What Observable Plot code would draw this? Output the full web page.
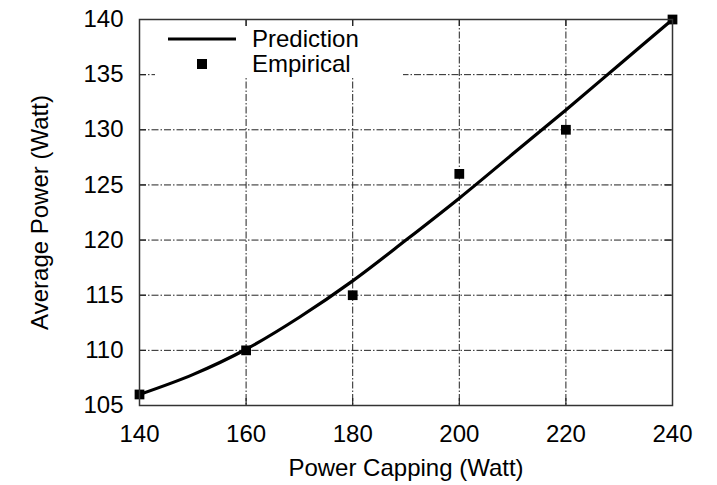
<!DOCTYPE html>
<html><head><meta charset="utf-8">
<script src="https://cdn.jsdelivr.net/npm/d3@7"></script>
<script src="https://cdn.jsdelivr.net/npm/@observablehq/plot@0.6"></script>
<style>
body{margin:0;background:#fff;}
#wrap{position:relative;width:717px;height:485px;font-family:"Liberation Sans",Arial,Helvetica,sans-serif;}
#legend{position:absolute;left:155px;top:27px;width:248px;height:50px;background:#fff;}
#legend .row{position:absolute;left:0;height:26px;width:248px;}
#legend .lab{position:absolute;left:97px;font-size:24px;line-height:26px;color:#000;}
#legend svg{position:absolute;left:0;top:0;}
</style></head><body>
<div id="wrap"><div id="chart"></div><div id="legend"></div></div>
<script>
// Data
const capping   = [140, 160, 180, 200, 220, 240];
const empirical = [106, 110, 115, 126, 130, 140];
const predX = [140, 150, 160, 170, 180, 190, 200, 210, 220, 230, 240];
const predY = [106, 107.8, 110.1, 113, 116.3, 120, 123.8, 127.8, 131.8, 135.9, 140];
const xTicks = [140, 160, 180, 200, 220, 240];
const yTicks = [105, 110, 115, 120, 125, 130, 135, 140];
const seriesNames = ["Prediction", "Empirical"];
const xLabel = "Power Capping (Watt)";
const yLabel = "Average Power (Watt)";

const empData = capping.map((c, i) => ({x: c, y: empirical[i]}));
const predData = predX.map((c, i) => ({x: c, y: predY[i]}));
const innerX = xTicks.slice(1, -1);
const innerY = yTicks.slice(1, -1);
const gridStyle = {stroke: "#222", strokeOpacity: 1, strokeWidth: 1, strokeDasharray: "7,2,1.5,2"};
const tickStyle = {stroke: "#222", strokeWidth: 1.2};
const font = '"Liberation Sans",Arial,Helvetica,sans-serif';

const chart = Plot.plot({
  width: 717, height: 485,
  marginLeft: 139, marginRight: 45, marginTop: 19, marginBottom: 80,
  x: {domain: [140, 240]},
  y: {domain: [105, 140]},
  style: {fontFamily: font, fontSize: "24px", color: "#000", background: "#fff"},
  marks: [
    Plot.gridX(innerX, gridStyle),
    Plot.gridY(innerY, gridStyle),
    Plot.tickX(innerX, {x: d => d, insetTop: 379, ...tickStyle}),
    Plot.tickX(innerX, {x: d => d, insetBottom: 379, ...tickStyle}),
    Plot.tickY(innerY, {y: d => d, insetLeft: 526, ...tickStyle}),
    Plot.tickY(innerY, {y: d => d, insetRight: 526, ...tickStyle}),
    Plot.axisX(xTicks, {tickSize: 0, tickPadding: 19, fontSize: 24, label: null}),
    Plot.axisY(yTicks, {tickSize: 0, tickPadding: 16, fontSize: 24, label: null}),
    Plot.text([xLabel], {frameAnchor: "bottom", dy: 63, lineAnchor: "middle", text: d => d, fontSize: 24, fill: "#000"}),
    Plot.text([yLabel], {frameAnchor: "left", dx: -99, rotate: -90, textAnchor: "middle", lineAnchor: "middle", text: d => d, fontSize: 24, fill: "#000"}),
    Plot.line(predData, {x: "x", y: "y", curve: "catmull-rom", stroke: "#000", strokeWidth: 3.2}),
    Plot.dot(empData, {x: "x", y: "y", symbol: "square", r: 5.5, fill: "#000", stroke: "none"}),
    Plot.frame({stroke: "#333", strokeWidth: 1.5})
  ]
});
document.getElementById("chart").appendChild(chart);

// Legend (inside the plot area, opaque box like gnuplot)
const leg = document.getElementById("legend");
seriesNames.forEach((name, i) => {
  const row = document.createElement("div");
  row.className = "row";
  row.style.top = (i === 0 ? -1 : 24) + "px";
  const sw = i === 0
    ? '<svg width="90" height="26"><line x1="13" x2="81" y1="13" y2="13" stroke="#000" stroke-width="3.2"/></svg>'
    : '<svg width="90" height="26"><rect x="42" y="8" width="10" height="10" fill="#000"/></svg>';
  row.innerHTML = sw + '<span class="lab">' + name + '</span>';
  leg.appendChild(row);
});
</script>
</body></html>
